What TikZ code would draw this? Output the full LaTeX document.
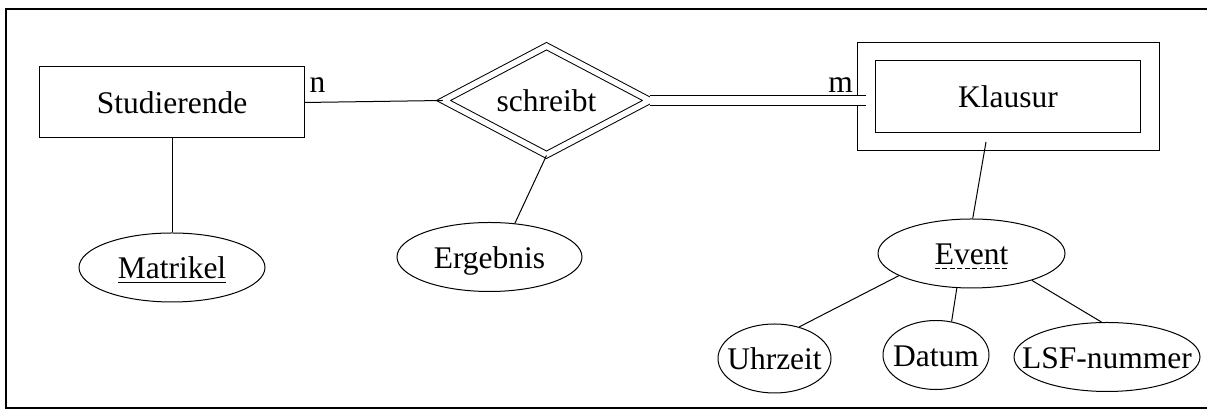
\documentclass[tikz,border=0pt]{standalone}
\usepackage{fontspec}
\setmainfont{Liberation Serif}
\usetikzlibrary{shapes.geometric}

\begin{document}
\begin{tikzpicture}[x=0.4pt,y=-0.4pt,line width=0.4pt,
    every node/.style={font=\fontsize{12.6}{15}\selectfont,text height=12.6pt,text depth=3.4pt},
    entity/.style={draw,rectangle,minimum width=105.6pt,minimum height=28.4pt},
    weakentity/.style={entity,double,double distance=7pt,minimum width=113.4pt,minimum height=36pt},
    relation/.style={draw,diamond,aspect=1.9,double,double distance=2.2pt,inner sep=0pt,
      minimum width=82.6pt,minimum height=43.6pt},
    % text may run out to the rim of the ellipse
    attrib/.style={draw,ellipse,inner xsep=-8pt,inner ysep=0pt,minimum width=#1,minimum height=27.6pt}]
      \useasboundingbox (0,0) rectangle (1207,410);
      \draw[line width=0.6pt] (1207,9) -- (6,9) -- (6,408) -- (1207,408);
      \draw
        (172,102.5) node[entity] (stud){Studierende}
        (546.5,100.5) node[relation] (schreibt){schreibt}
        (1008,96.5) node[weakentity] (klausur){Klausur}
        (172,267.5) node[attrib=74.4pt] (matrikel){\underline{Matrikel}}
        (489.5,257) node[attrib=74pt] (ergebnis){Ergebnis}
        (971.5,253.5) node[attrib=74.8pt] (event){Event}
        (774.5,358.5) node[attrib=45.2pt] (uhrzeit){Uhrzeit}
        (936,355) node[attrib=42.4pt] (datum){Datum}
        (1107,357) node[attrib=74.4pt] (lsf){LSF-nummer}
        (317.5,81.5) node[inner sep=0pt] (n){n}
        (840.5,81.5) node[inner sep=0pt] (m){m};
      % partial key: dashed underline
      \draw[dash pattern=on 2pt off 1pt] ([shift={(-36.7,3.5)}]event.base) -- ([shift={(36.7,3.5)}]event.base);
      \begin{scope}[-]
        \draw (stud.east) to (schreibt.west);
        \draw[double,double distance=3.3pt] (schreibt.east) to (schreibt.east -| klausur.west);
        \draw (stud.south) to (matrikel.north);
        \draw (schreibt.south) to (ergebnis.53);
        \draw ([shift={(-22,0)}]klausur.south) to (event.88);
        \draw (event.197) to (uhrzeit.52);
        \draw (event.247) to (datum.65);
        \draw (event.336) to (lsf.99);
      \end{scope}
    \end{tikzpicture}
\end{document}
